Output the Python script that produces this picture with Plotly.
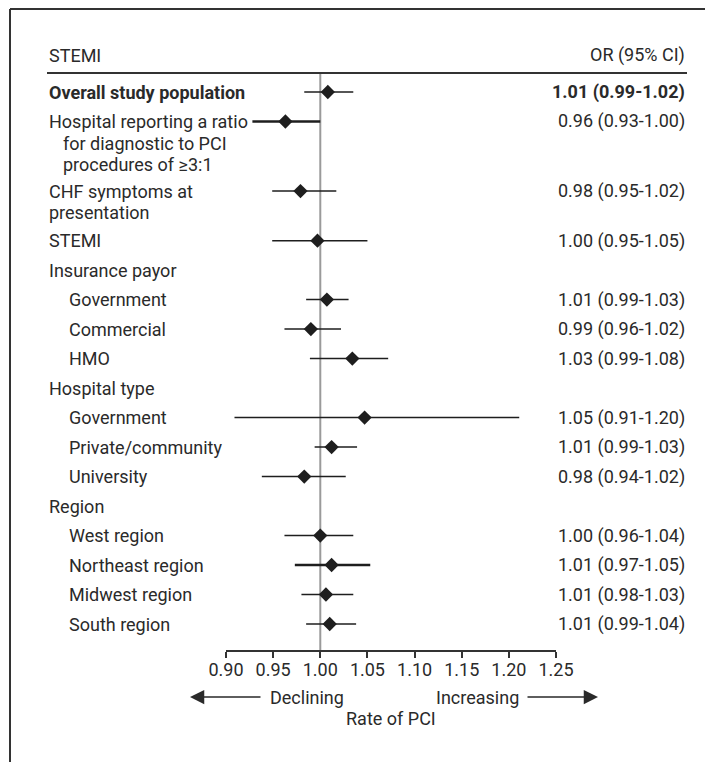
import plotly.graph_objects as go

# ---------------- data ----------------
labels = [
    ["Overall study population"],
    ["Hospital reporting a ratio", "  for diagnostic to PCI", "  procedures of \u22653:1"],
    ["CHF symptoms at", "presentation"],
    ["STEMI"],
    ["Insurance payor"],
    ["Government"],
    ["Commercial"],
    ["HMO"],
    ["Hospital type"],
    ["Government"],
    ["Private/community"],
    ["University"],
    ["Region"],
    ["West region"],
    ["Northeast region"],
    ["Midwest region"],
    ["South region"],
]
indent = [0, 0, 0, 0, 0, 1, 1, 1, 0, 1, 1, 1, 0, 1, 1, 1, 1]
bold = [True] + [False] * 16

# plotted estimates (None for group header rows)
est = [1.008, 0.963, 0.979, 0.997, None, 1.007, 0.990, 1.034, None,
       1.047, 1.012, 0.983, None, 1.000, 1.012, 1.006, 1.010]
lo = [0.983, 0.928, 0.949, 0.949, None, 0.985, 0.962, 0.989, None,
      0.909, 0.994, 0.938, None, 0.962, 0.973, 0.980, 0.985]
hi = [1.035, 1.000, 1.017, 1.050, None, 1.030, 1.022, 1.072, None,
      1.211, 1.039, 1.027, None, 1.035, 1.053, 1.035, 1.038]
or_text = ["1.01 (0.99-1.02)", "0.96 (0.93-1.00)", "0.98 (0.95-1.02)", "1.00 (0.95-1.05)", "",
           "1.01 (0.99-1.03)", "0.99 (0.96-1.02)", "1.03 (0.99-1.08)", "",
           "1.05 (0.91-1.20)", "1.01 (0.99-1.03)", "0.98 (0.94-1.02)", "",
           "1.00 (0.96-1.04)", "1.01 (0.97-1.05)", "1.01 (0.98-1.03)", "1.01 (0.99-1.04)"]
thick = [False, True, False, False, False, False, False, False, False,
         False, False, False, False, False, True, False, False]

tick_vals = [0.90, 0.95, 1.00, 1.05, 1.10, 1.15, 1.20, 1.25]
tick_text = ["0.90", "0.95", "1.00", "1.05", "1.10", "1.15", "1.20", "1.25"]

# ---------------- layout helpers ----------------
W, H = 713, 762
OFF = 8               # page body margin
FONT = "Roboto, sans-serif"
TXT = "#2a2a2a"
PX_PER_SLOT = 29.49
TOP_PX = 92           # page pixel y of first row
AXIS_PX = 650         # page pixel y of x axis
EXTRA = 0.68
LINE = 0.73

ypos = []
y = 0.0
for i, lab in enumerate(labels):
    if i > 0:
        y += 1 + EXTRA * (len(labels[i - 1]) - 1)
    ypos.append(y)

def px2slot(p):
    return (p - TOP_PX) / PX_PER_SLOT

def px2py(p):
    return 1 - (p - OFF) / H

def px2fx(p):
    return (p - OFF) / W

fig = go.Figure()

for tflag, width in [(False, 1.5), (True, 2.3)]:
    xs, ys, ep, em = [], [], [], []
    for i in range(len(est)):
        if est[i] is None or thick[i] != tflag:
            continue
        xs.append(est[i]); ys.append(ypos[i])
        ep.append(hi[i] - est[i]); em.append(est[i] - lo[i])
    fig.add_trace(go.Scatter(
        x=xs, y=ys, mode="markers",
        marker=dict(symbol="diamond", size=11, color="#1e1e1e"),
        error_x=dict(type="data", symmetric=False, array=ep, arrayminus=em,
                     width=0, thickness=width, color="#1e1e1e"),
        showlegend=False, hoverinfo="skip"))

annotations = []
for i, lab in enumerate(labels):
    for k, line in enumerate(lab):
        txt = line.strip()
        extra_indent = 14 if line.startswith("  ") else 0
        x_px = 47 + 20 * indent[i] + extra_indent
        if bold[i]:
            txt = "<b>" + txt + "</b>"
        annotations.append(dict(
            x=px2fx(x_px), xref="paper", y=ypos[i] + k * LINE, yref="y",
            text=txt, showarrow=False, xanchor="left", yanchor="middle",
            font=dict(family=FONT, size=18, color=TXT)))
    if or_text[i]:
        t = "<b>" + or_text[i] + "</b>" if bold[i] else or_text[i]
        annotations.append(dict(
            x=px2fx(687), xref="paper", y=ypos[i], yref="y",
            text=t, showarrow=False, xanchor="right", yanchor="middle",
            font=dict(family=FONT, size=18, color=TXT)))

annotations.append(dict(x=px2fx(47), xref="paper", y=px2slot(55), yref="y", text="STEMI",
                        showarrow=False, xanchor="left", yanchor="middle",
                        font=dict(family=FONT, size=18, color=TXT)))
annotations.append(dict(x=px2fx(687), xref="paper", y=px2slot(55), yref="y", text="OR (95% CI)",
                        showarrow=False, xanchor="right", yanchor="middle",
                        font=dict(family=FONT, size=18, color=TXT)))

ya = px2py(697)
annotations.append(dict(x=px2fx(190), y=ya, xref="paper", yref="paper", text="",
                        showarrow=True, ax=72, ay=0, axref="pixel", ayref="pixel",
                        arrowhead=2, arrowsize=1.9, arrowwidth=1.5, arrowcolor=TXT))
annotations.append(dict(x=px2fx(598), y=ya, xref="paper", yref="paper", text="",
                        showarrow=True, ax=-72, ay=0, axref="pixel", ayref="pixel",
                        arrowhead=2, arrowsize=1.9, arrowwidth=1.5, arrowcolor=TXT))
annotations.append(dict(x=px2fx(268), y=ya, xref="paper", yref="paper", text="Declining",
                        showarrow=False, xanchor="left", yanchor="middle",
                        font=dict(family=FONT, size=18, color=TXT)))
annotations.append(dict(x=px2fx(521), y=ya, xref="paper", yref="paper", text="Increasing",
                        showarrow=False, xanchor="right", yanchor="middle",
                        font=dict(family=FONT, size=18, color=TXT)))
annotations.append(dict(x=px2fx(391), y=px2py(718), xref="paper", yref="paper", text="Rate of PCI",
                        showarrow=False, xanchor="center", yanchor="middle",
                        font=dict(family=FONT, size=18, color=TXT)))

y_bottom = px2slot(AXIS_PX)
y_top = px2slot(OFF)

shapes = [
    dict(type="line", xref="paper", yref="y", x0=px2fx(47), x1=px2fx(687),
         y0=px2slot(73), y1=px2slot(73), line=dict(color="#333333", width=2)),
    dict(type="line", xref="x", yref="y", x0=1.0, x1=1.0,
         y0=px2slot(73), y1=y_bottom, line=dict(color="#9a9a9a", width=2), layer="below"),
    dict(type="line", xref="paper", yref="paper", x0=px2fx(10), x1=1.0,
         y0=px2py(9), y1=px2py(9), line=dict(color="#333333", width=2)),
    dict(type="line", xref="paper", yref="paper", x0=px2fx(10), x1=px2fx(10),
         y0=px2py(9), y1=0, line=dict(color="#333333", width=2)),
]

fig.update_layout(
    width=W, height=H, autosize=False,
    margin=dict(l=0, r=0, t=0, b=0, pad=0, autoexpand=False),
    paper_bgcolor="white", plot_bgcolor="white",
    xaxis=dict(domain=[px2fx(226), px2fx(556)], range=[0.90, 1.25],
               tickvals=tick_vals, ticktext=tick_text,
               ticks="outside", ticklen=6, tickwidth=1.5, tickcolor="#333333",
               ticklabelstandoff=-3,
               showline=True, linecolor="#333333", linewidth=1.5,
               showgrid=False, zeroline=False, automargin=False,
               tickfont=dict(family=FONT, size=18, color=TXT)),
    yaxis=dict(domain=[1 - (AXIS_PX - OFF) / H, 1], range=[y_bottom, y_top],
               visible=False, showgrid=False, zeroline=False, automargin=False),
    annotations=annotations,
    shapes=shapes,
)

fig.write_html("out.html")
